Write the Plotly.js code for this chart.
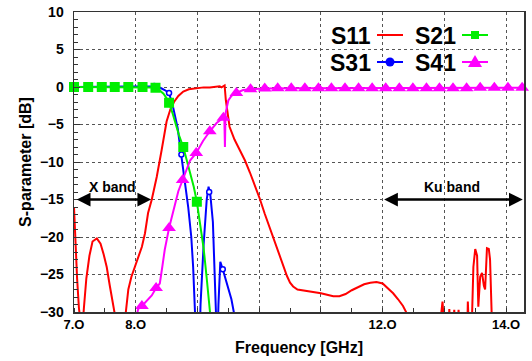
<!DOCTYPE html>
<html>
<head>
<meta charset="utf-8">
<script src="https://cdn.plot.ly/plotly-3.0.1.min.js"></script>
<style>html,body{margin:0;padding:0;background:#fff;}#chart{width:532px;height:361px;}</style>
</head>
<body>
<div id="chart"></div>
<script>
// ---- data ----
const s11Freq = [7.0, 7.02, 7.05, 7.08, 7.1, 7.13, 7.16, 7.2, 7.25, 7.3, 7.37, 7.43, 7.48, 7.53, 7.58, 7.64, 7.69, 7.74, 7.8, 7.84, 7.88, 7.93, 8.0, 8.05, 8.1, 8.15, 8.2, 8.26, 8.34, 8.42, 8.5, 8.56, 8.62, 8.69, 8.77, 8.86, 8.98, 9.1, 9.2, 9.3, 9.36, 9.39, 9.42, 9.44, 9.46, 9.48, 9.52, 9.6, 9.69, 9.77, 9.85, 9.93, 10.01, 10.09, 10.17, 10.25, 10.33, 10.4, 10.45, 10.5, 10.55, 10.62, 10.7, 10.8, 10.9, 11.0, 11.1, 11.2, 11.3, 11.4, 11.5, 11.6, 11.7, 11.8, 11.9, 12.0, 12.08, 12.17, 12.25, 12.33, 12.38, 12.42, 12.5, 12.9, 12.97, 12.99, 13.01, 13.06, 13.08, 13.1, 13.14, 13.16, 13.18, 13.21, 13.23, 13.25, 13.35, 13.37, 13.38, 13.40, 13.44, 13.47, 13.5, 13.53, 13.55, 13.58, 13.61, 13.64, 13.66, 13.69, 13.72, 13.74, 13.76, 13.78, 14.0, 14.3];
const s11Db = [-16, -20.5, -25.5, -29.5, -31.5, -33, -29.5, -25.5, -22.5, -20.6, -20.2, -20.9, -22.3, -24, -26.5, -29.3, -31, -34, -33, -29.5, -27, -25.3, -23.7, -22.5, -21.3, -19.5, -16.8, -15, -12, -8.4, -4.6, -3.0, -2.0, -1.2, -0.6, -0.3, -0.15, -0.05, -0.05, 0, 0.1, -0.05, 0.1, 0.2, -1.8, -3.2, -5.3, -7.0, -8.4, -9.8, -11.4, -13.1, -14.9, -16.9, -18.8, -20.6, -22.4, -24, -25.2, -26.1, -26.6, -27, -27.1, -27.2, -27.4, -27.5, -27.7, -27.9, -27.9, -27.6, -27.1, -26.7, -26.3, -26.1, -26.0, -26.2, -26.8, -27.5, -28.3, -29.2, -30, -32, -34, -34, -28.6, -33, -34, -34, -29.6, -33, -33, -29.7, -33, -33, -29.7, -33, -34, -33, -28.6, -33, -33, -24, -21.6, -22.5, -29.3, -25.3, -24.8, -26.5, -27, -21.5, -21.6, -23, -30, -34, -34, -34];

const s21Freq = [7.0, 7.5, 8.0, 8.2, 8.3, 8.35, 8.4, 8.45, 8.5, 8.54, 8.6, 8.65, 8.7, 8.77, 8.83, 8.88, 8.94, 8.99, 9.05, 9.1, 9.15, 9.2, 9.25];
const s21Db = [0, 0, 0, 0, -0.05, -0.2, -0.5, -0.9, -1.5, -2.1, -3.6, -5.0, -6.4, -8.0, -9.8, -11.4, -13.3, -15.3, -18.5, -21.5, -25.5, -29.8, -34];
const s21MarkFreq = [7.0, 7.23, 7.45, 7.66, 7.88, 8.11, 8.32, 8.54, 8.77, 8.99];
const s21MarkDb = [0, 0, 0, 0, 0, 0, -0.1, -2.1, -8.0, -15.3];

const s31Freq = [7.0, 8.0, 8.2, 8.27, 8.3, 8.36, 8.42, 8.47, 8.54, 8.6, 8.68, 8.74, 8.8, 8.85, 8.9, 8.93, 8.96, 8.98, 9.03, 9.05, 9.1, 9.15, 9.18, 9.21, 9.25, 9.28, 9.31, 9.32, 9.34, 9.37, 9.41, 9.45, 9.5, 9.55, 9.6, 9.62];
const s31Db = [0, 0, 0, 0.1, 0.15, 0.05, -0.2, -0.4, -0.8, -2.5, -5.5, -9.0, -12.5, -16, -20, -24, -30, -35, -35, -29, -21, -15, -13.3, -14.5, -18, -24, -30, -35, -29, -23.3, -24.3, -25.5, -26.7, -28.3, -30.5, -35];
const s31MarkFreq = [8.30, 8.54, 8.74, 9.19, 9.41];
const s31MarkDb = [0.15, -0.8, -9.0, -14.0, -24.3];

const s41Freq = [8.0, 8.04, 8.1, 8.18, 8.26, 8.33, 8.39, 8.43, 8.47, 8.54, 8.61, 8.69, 8.76, 8.82, 8.88, 8.98, 9.09, 9.2, 9.31, 9.42, 9.435, 9.445, 9.455, 9.5, 9.55, 9.63, 9.74, 9.86, 10.09, 10.5, 11.0, 11.5, 12.0, 12.5, 13.0, 13.5, 14.0, 14.3];
const s41Db = [-31, -29.6, -29.2, -28.5, -27.8, -26.8, -26.2, -24, -21.7, -18.8, -16.6, -13.9, -12.4, -11, -9.8, -8.8, -7.2, -5.9, -4.8, -4.1, -4.0, -8.0, -3.5, -1.8, -1.2, -0.8, -0.4, -0.3, -0.2, -0.15, -0.15, -0.15, -0.15, -0.15, -0.15, -0.1, -0.1, -0.1];
const s41MarkFreq = [8.10, 8.33, 8.54, 8.76, 8.98, 9.20, 9.42, 9.63, 9.86, 10.09, 10.30, 10.52, 10.74, 10.96, 11.17, 11.39, 11.61, 11.83, 12.05, 12.27, 12.49, 12.71, 12.92, 13.14, 13.36, 13.58, 13.81, 14.03, 14.26];
const s41MarkDb = [-29.2, -26.8, -18.8, -12.4, -8.8, -5.9, -4.1, -0.8, -0.3, -0.2, -0.15, -0.15, -0.15, -0.15, -0.15, -0.15, -0.15, -0.15, -0.15, -0.15, -0.15, -0.15, -0.15, -0.15, -0.15, -0.1, -0.1, -0.1, -0.1];

const xTickVals = [7, 8, 9, 10, 11, 12, 13, 14];
const xTickText = ['7.O', '8.O', '', '', '', '12.O', '', '14.O'];
const legendNames = ['S11', 'S21', 'S31', 'S41'];

// ---- styles ----
const RED = '#ff0000', GREEN = '#00ee00', BLUE = '#0000ff', MAG = '#ff00ff';
const FONT = 'Arial, "Liberation Sans", sans-serif';

const traces = [
  {x: s11Freq, y: s11Db, mode: 'lines', line: {color: RED, width: 2}},
  {x: s31Freq, y: s31Db, mode: 'lines', line: {color: BLUE, width: 2}},
  {x: s31MarkFreq, y: s31MarkDb, mode: 'markers', cliponaxis: false,
   marker: {symbol: 'circle', size: 5, color: '#ffffff', line: {color: BLUE, width: 1.5}}},
  {x: s21Freq, y: s21Db, mode: 'lines', line: {color: GREEN, width: 2}},
  {x: s21MarkFreq, y: s21MarkDb, mode: 'markers', cliponaxis: false,
   marker: {symbol: 'square', size: 10, color: GREEN}},
  {x: s41Freq, y: s41Db, mode: 'lines', line: {color: MAG, width: 2}},
  {x: s41MarkFreq, y: s41MarkDb, mode: 'markers', cliponaxis: false,
   marker: {symbol: 'triangle-up', size: 12, color: MAG}}
];

// legend built from paper-coordinate shapes and annotations (symbols after text)
const px = v => (v - 74) / 450;
const py = v => (312 - v) / 300;
const legendRows = [
  {name: legendNames[0], tx: 372, y: 35, color: RED, sym: 'none'},
  {name: legendNames[1], tx: 457, y: 35, color: GREEN, sym: 'square'},
  {name: legendNames[2], tx: 372, y: 62, color: BLUE, sym: 'circle'},
  {name: legendNames[3], tx: 457, y: 62, color: MAG, sym: 'triangle'}
];
const shapes = [];
const annotations = [];
legendRows.forEach(r => {
  annotations.push({xref: 'paper', yref: 'paper', x: px(r.tx + 1), y: py(r.y + 1), xanchor: 'right', yanchor: 'middle',
    text: r.name, showarrow: false, font: {family: FONT, size: 23, weight: 'bold', color: '#000'}});
  const x0 = r.tx + 5, x1 = r.tx + 31, xc = (x0 + x1) / 2;
  shapes.push({type: 'line', xref: 'paper', yref: 'paper', x0: px(x0), x1: px(x1), y0: py(r.y), y1: py(r.y),
    line: {color: r.color, width: 2}});
  if (r.sym === 'square') {
    shapes.push({type: 'rect', xref: 'paper', yref: 'paper', x0: px(xc - 4), x1: px(xc + 4), y0: py(r.y - 4), y1: py(r.y + 4),
      fillcolor: r.color, line: {width: 0}});
  } else if (r.sym === 'circle') {
    shapes.push({type: 'circle', xref: 'paper', yref: 'paper', x0: px(xc - 4.5), x1: px(xc + 4.5), y0: py(r.y - 4.5), y1: py(r.y + 4.5),
      fillcolor: r.color, line: {width: 0}});
  } else if (r.sym === 'triangle') {
    shapes.push({type: 'path', xref: 'paper', yref: 'paper',
      path: `M ${px(xc)} ${py(r.y - 7)} L ${px(xc - 7)} ${py(r.y + 5)} L ${px(xc + 7)} ${py(r.y + 5)} Z`,
      fillcolor: r.color, line: {width: 0}});
  }
});

// band arrows and labels
annotations.push(
  {x: 8.25, y: -15, ax: 7.02, ay: -15, axref: 'x', ayref: 'y', xref: 'x', yref: 'y', text: '',
   showarrow: true, arrowhead: 2, startarrowhead: 2, arrowside: 'end+start', arrowsize: 1.1, startarrowsize: 1.1,
   arrowwidth: 2.5, arrowcolor: '#000', standoff: 0, startstandoff: 0},
  {x: 7.62, y: -13.3, xref: 'x', yref: 'y', text: 'X band', showarrow: false,
   font: {family: FONT, size: 14, weight: 'bold', color: '#000'}},
  {x: 14.27, y: -15, ax: 12.0, ay: -15, axref: 'x', ayref: 'y', xref: 'x', yref: 'y', text: '',
   showarrow: true, arrowhead: 2, startarrowhead: 2, arrowside: 'end+start', arrowsize: 1.1, startarrowsize: 1.1,
   arrowwidth: 2.5, arrowcolor: '#000', standoff: 0, startstandoff: 0},
  {x: 13.13, y: -13.3, xref: 'x', yref: 'y', text: 'Ku band', showarrow: false,
   font: {family: FONT, size: 14, weight: 'bold', color: '#000'}}
);

const layout = {
  width: 532, height: 361,
  margin: {l: 74, r: 8, t: 12, b: 49},
  paper_bgcolor: '#fff', plot_bgcolor: '#fff',
  showlegend: false,
  font: {family: FONT, color: '#000'},
  xaxis: {
    range: [7, 14.29], tickmode: 'array', tickvals: xTickVals, ticktext: xTickText,
    ticks: '', showgrid: true, gridcolor: '#555', griddash: 'dot', gridwidth: 1,
    showline: true, mirror: true, linecolor: '#333', linewidth: 1.5, zeroline: false,
    tickfont: {family: FONT, size: 13, weight: 'bold'},
    minor: {dtick: 0.5, tick0: 7, ticks: 'inside', ticklen: 4, tickcolor: '#333', showgrid: false},
    title: {text: 'Frequency [GHz]', font: {family: FONT, size: 16, weight: 'bold'}, standoff: 10}
  },
  yaxis: {
    range: [-30, 10], tickmode: 'linear', tick0: -30, dtick: 5,
    ticks: 'inside', ticklen: 6, tickcolor: '#333',
    showgrid: true, gridcolor: '#555', griddash: 'dot', gridwidth: 1,
    showline: true, mirror: true, linecolor: '#333', linewidth: 1.5, zeroline: false,
    tickfont: {family: FONT, size: 14, weight: 'bold'}, ticklabelstandoff: 6,
    minor: {dtick: 1, tick0: -30, ticks: 'inside', ticklen: 4, tickcolor: '#333', showgrid: false},
    title: {text: 'S-parameter [dB]', font: {family: FONT, size: 16, weight: 'bold'}, standoff: 4}
  },
  shapes: shapes,
  annotations: annotations
};

Plotly.newPlot('chart', traces, layout, {staticPlot: true, displayModeBar: false});
</script>
</body>
</html>
